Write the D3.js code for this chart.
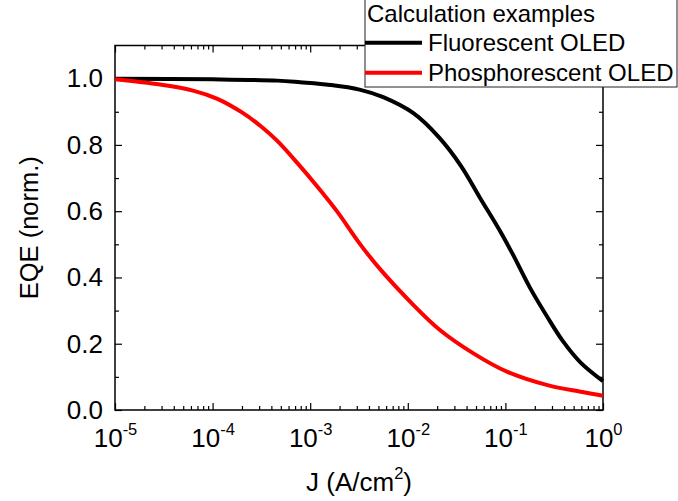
<!DOCTYPE html>
<html>
<head>
<meta charset="utf-8">
<script src="https://cdn.jsdelivr.net/npm/d3@7"></script>
<style>
  body { margin: 0; background: #fff; }
  svg { display: block; font-family: "Liberation Sans", Arial, sans-serif; }
</style>
</head>
<body>
<div id="chart"></div>
<script>
// values
var jFluo = [1e-5, 1e-4, 4.6e-4, 7.9e-4, 1.6e-3, 3.2e-3, 5.6e-3, 1.15e-2, 2.1e-2, 3.5e-2, 5.5e-2, 8.9e-2, 1.2e-1, 1.8e-1, 2.7e-1, 3.9e-1, 5.9e-1, 1];
var eqeFluo = [1.0, 0.998, 0.994, 0.989, 0.981, 0.967, 0.944, 0.895, 0.822, 0.737, 0.640, 0.538, 0.468, 0.367, 0.280, 0.207, 0.143, 0.087];

var jPhos = [1e-5, 2.9e-5, 6.3e-5, 1.12e-4, 2.0e-4, 3.1e-4, 4.6e-4, 7.4e-4, 1.17e-3, 1.9e-3, 3.2e-3, 5.2e-3, 1.15e-2, 2.1e-2, 4.7e-2, 1.05e-1, 2.7e-1, 5.9e-1, 1];
var eqePhos = [0.998, 0.982, 0.964, 0.939, 0.898, 0.857, 0.812, 0.745, 0.676, 0.598, 0.503, 0.425, 0.316, 0.243, 0.171, 0.115, 0.075, 0.055, 0.043];

var seriesNames = ["Fluorescent OLED", "Phosphorescent OLED"];
var seriesColors = ["#000000", "#ff0000"];
var legendTitle = "Calculation examples";

var xMajor = [1e-5, 1e-4, 1e-3, 1e-2, 1e-1, 1];
var xExponents = ["-5", "-4", "-3", "-2", "-1", "0"];
var yMajor = [0, 0.2, 0.4, 0.6, 0.8, 1.0];
var yMinor = [0.1, 0.3, 0.5, 0.7, 0.9];

var width = 678, height = 501;
var plotL = 115, plotR = 603, plotT = 45.5, plotB = 410;

var svg = d3.select("#chart").append("svg")
    .attr("width", width)
    .attr("height", height);

var x = d3.scaleLog().domain([1e-5, 1]).range([plotL, plotR]);
var y = d3.scaleLinear().domain([0, 1.1]).range([plotB, plotT]);

// minor ticks for the log axis: 2..9 in every decade
var xMinor = [];
xMajor.slice(0, -1).forEach(function (d) {
    for (var k = 2; k <= 9; k++) xMinor.push(d * k);
});

function styleAxis(g) {
    g.select(".domain").remove();
    g.selectAll("line").attr("stroke", "#000").attr("stroke-width", 1.2);
}

// bottom axis
svg.append("g").attr("transform", "translate(0," + plotB + ")")
    .call(d3.axisBottom(x).tickValues(xMinor).tickSize(-4).tickFormat(""))
    .call(styleAxis);
var xAx = svg.append("g").attr("transform", "translate(0," + plotB + ")")
    .call(d3.axisBottom(x).tickValues(xMajor).tickSize(-7).tickPadding(0))
    .call(styleAxis);
xAx.selectAll("text").each(function (d, i) {
    var t = d3.select(this);
    t.text("").attr("y", 36.5).attr("dy", null)
        .attr("font-size", 26).attr("fill", "#000")
        .attr("font-family", "Liberation Sans, Arial, sans-serif");
    t.append("tspan").text("10");
    t.append("tspan").attr("font-size", 16.5).attr("dy", -12).text(xExponents[i]);
});

// top axis (mirror ticks)
svg.append("g").attr("transform", "translate(0," + plotT + ")")
    .call(d3.axisTop(x).tickValues(xMinor).tickSize(-4).tickFormat(""))
    .call(styleAxis);
svg.append("g").attr("transform", "translate(0," + plotT + ")")
    .call(d3.axisTop(x).tickValues(xMajor).tickSize(-7).tickFormat(""))
    .call(styleAxis);

// left axis
svg.append("g").attr("transform", "translate(" + plotL + ",0)")
    .call(d3.axisLeft(y).tickValues(yMinor).tickSize(-4).tickFormat(""))
    .call(styleAxis);
svg.append("g").attr("transform", "translate(" + plotL + ",0)")
    .call(d3.axisLeft(y).tickValues(yMajor).tickSize(-7).tickPadding(12).tickFormat(d3.format(".1f")))
    .call(styleAxis)
    .selectAll("text")
    .attr("font-size", 26).attr("fill", "#000")
    .attr("font-family", "Liberation Sans, Arial, sans-serif");

// right axis
svg.append("g").attr("transform", "translate(" + plotR + ",0)")
    .call(d3.axisRight(y).tickValues(yMinor).tickSize(-4).tickFormat(""))
    .call(styleAxis);
svg.append("g").attr("transform", "translate(" + plotR + ",0)")
    .call(d3.axisRight(y).tickValues(yMajor).tickSize(-7).tickFormat(""))
    .call(styleAxis);

// frame
svg.append("rect")
    .attr("x", plotL).attr("y", plotT)
    .attr("width", plotR - plotL).attr("height", plotB - plotT)
    .attr("fill", "none").attr("stroke", "#000").attr("stroke-width", 1.5);

// curves
var line = d3.line()
    .x(function (d) { return x(d[0]); })
    .y(function (d) { return y(d[1]); })
    .curve(d3.curveCatmullRom.alpha(0.5));

var series = [d3.zip(jFluo, eqeFluo), d3.zip(jPhos, eqePhos)];
series.forEach(function (s, i) {
    svg.append("path")
        .datum(s)
        .attr("d", line)
        .attr("fill", "none")
        .attr("stroke", seriesColors[i])
        .attr("stroke-width", 4)
        .attr("stroke-linejoin", "round");
});

// axis titles
svg.append("text")
    .attr("x", (plotL + plotR) / 2).attr("y", 491)
    .attr("text-anchor", "middle").attr("font-size", 26)
    .call(function (t) {
        t.append("tspan").text("J (A/cm");
        t.append("tspan").attr("font-size", 16.5).attr("dy", -12).text("2");
        t.append("tspan").attr("dy", 12).text(")");
    });

svg.append("text")
    .attr("transform", "translate(38," + (y(0.55)) + ") rotate(-90)")
    .attr("text-anchor", "middle").attr("font-size", 25.5)
    .text("EQE (norm.)");

// legend
var lg = svg.append("g");
lg.append("rect")
    .attr("x", 365).attr("y", -2)
    .attr("width", 312).attr("height", 89)
    .attr("fill", "#fff").attr("stroke", "#222").attr("stroke-width", 1);
lg.append("text")
    .attr("x", 367).attr("y", 21.5)
    .attr("font-size", 24)
    .text(legendTitle);
seriesNames.forEach(function (name, i) {
    var yy = 42.7 + i * 30;
    lg.append("line")
        .attr("x1", 365).attr("x2", 422)
        .attr("y1", yy).attr("y2", yy)
        .attr("stroke", seriesColors[i]).attr("stroke-width", 4);
    lg.append("text")
        .attr("x", 428).attr("y", yy + 8)
        .attr("font-size", 24)
        .text(name);
});
</script>
</body>
</html>
